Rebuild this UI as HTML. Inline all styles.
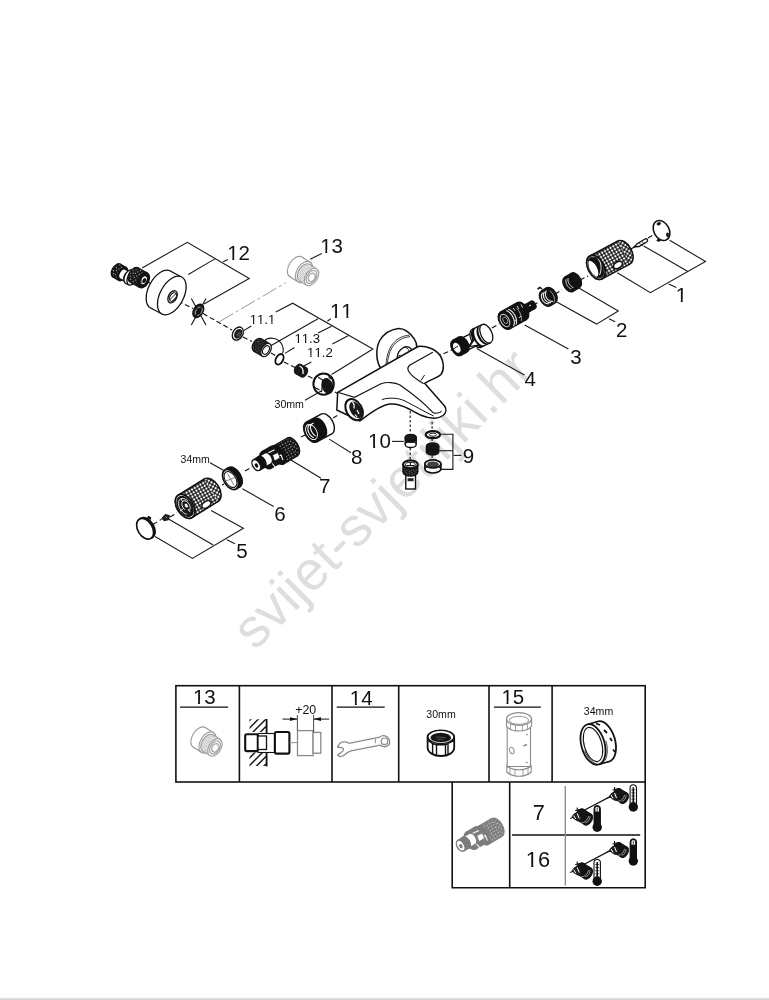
<!DOCTYPE html>
<html><head><meta charset="utf-8">
<style>
html,body{margin:0;padding:0;background:#fff;}
body{width:769px;height:1000px;overflow:hidden;position:relative;}
svg{position:absolute;left:0;top:0;will-change:transform;}
text{font-family:"Liberation Sans",sans-serif;font-kerning:none;font-feature-settings:"kern" 0;}
</style></head>
<body>
<svg width="769" height="1000" viewBox="0 0 769 1000">
<defs>
<linearGradient id="shade" x1="0" y1="0" x2="0" y2="1">
<stop offset="0" stop-color="#fff"/><stop offset="1" stop-color="#f4f4f4"/>
</linearGradient>
<pattern id="mesh" width="3.2" height="3.2" patternUnits="userSpaceOnUse" patternTransform="rotate(-30)">
<rect width="3.2" height="3.2" fill="#1a1a1a"/><circle cx="1.6" cy="1.6" r="1.12" fill="#fff"/>
</pattern>
<pattern id="knurl" width="2.4" height="2.4" patternUnits="userSpaceOnUse" patternTransform="rotate(-30)">
<rect width="2.4" height="2.4" fill="#1a1a1a"/><rect x="0.6" y="0.6" width="0.9" height="0.9" fill="#888"/>
</pattern>
<pattern id="gknurl" width="2" height="2" patternUnits="userSpaceOnUse" patternTransform="rotate(-30)">
<rect width="2" height="2" fill="#fff"/><rect x="0" y="0" width="1" height="1" fill="#aaa"/><rect x="1" y="1" width="1" height="1" fill="#bbb"/>
</pattern>
<pattern id="knurl2" width="3" height="3" patternUnits="userSpaceOnUse" patternTransform="rotate(-30)">
<rect width="3" height="3" fill="#151515"/><rect x="0.9" y="0.9" width="1.1" height="1.1" fill="#bbb"/>
</pattern>
<pattern id="mesh2" width="2.6" height="2.6" patternUnits="userSpaceOnUse" patternTransform="rotate(-30)">
<rect width="2.6" height="2.6" fill="#fff"/><circle cx="1.3" cy="1.3" r="0.6" fill="#444"/>
</pattern>
<filter id="lighten" color-interpolation-filters="sRGB"><feComponentTransfer><feFuncR type="linear" slope="0.55" intercept="0.45"/><feFuncG type="linear" slope="0.55" intercept="0.45"/><feFuncB type="linear" slope="0.55" intercept="0.45"/></feComponentTransfer></filter>
</defs>
<rect x="0" y="0" width="769" height="1000" fill="#fff"/>
<rect x="0" y="993.5" width="769" height="1.5" fill="#fafafa"/>
<rect x="0" y="997" width="769" height="1.5" fill="#f3f3f3"/>
<rect x="0" y="998.5" width="769" height="1.5" fill="#d2d2d2"/>

<!-- watermark -->
<g id="wm">
<text x="0" y="0" font-size="54.9" fill="#dedede" transform="translate(255,651.6) rotate(-44.9)">svijet-svjetiljki.hr</text>
</g>

<line x1="148" y1="282" x2="160" y2="289" stroke="#111" stroke-width="1.1" stroke-dasharray="5 2.8"/>
<line x1="178" y1="301" x2="193" y2="308.5" stroke="#111" stroke-width="1.1" stroke-dasharray="5 2.8"/>
<line x1="203" y1="313.5" x2="232" y2="330" stroke="#111" stroke-width="1.1" stroke-dasharray="5 2.8"/>
<line x1="243" y1="337" x2="252" y2="341.5" stroke="#111" stroke-width="1.1" stroke-dasharray="5 2.8"/>
<line x1="271" y1="353" x2="276" y2="356" stroke="#111" stroke-width="1.1" stroke-dasharray="5 2.8"/>
<line x1="284" y1="362" x2="296" y2="368" stroke="#111" stroke-width="1.1" stroke-dasharray="5 2.8"/>
<line x1="308" y1="376" x2="316" y2="380" stroke="#111" stroke-width="1.1" stroke-dasharray="5 2.8"/>
<line x1="335" y1="392" x2="342" y2="396" stroke="#111" stroke-width="1.1" stroke-dasharray="5 2.8"/>
<polyline points="219.5,321.7 285.8,282.7" fill="none" stroke="#9a9a9a" stroke-width="1" stroke-dasharray="16 3 3 3"/>
<line x1="422" y1="363" x2="452" y2="350" stroke="#111" stroke-width="1.1" stroke-dasharray="5 2.8"/>
<line x1="466" y1="341" x2="472" y2="338" stroke="#111" stroke-width="1.1" stroke-dasharray="5 2.8"/>
<line x1="492" y1="328" x2="499" y2="324" stroke="#111" stroke-width="1.1" stroke-dasharray="5 2.8"/>
<line x1="533" y1="305" x2="539" y2="302" stroke="#111" stroke-width="1.1" stroke-dasharray="5 2.8"/>
<line x1="555" y1="294" x2="562" y2="290" stroke="#111" stroke-width="1.1" stroke-dasharray="5 2.8"/>
<line x1="580" y1="280" x2="588" y2="276" stroke="#111" stroke-width="1.1" stroke-dasharray="5 2.8"/>
<line x1="631" y1="249" x2="636" y2="246" stroke="#111" stroke-width="1.1" stroke-dasharray="5 2.8"/>
<line x1="648" y1="238" x2="655" y2="234" stroke="#111" stroke-width="1.1" stroke-dasharray="5 2.8"/>
<line x1="153" y1="524.5" x2="161.5" y2="519.2" stroke="#111" stroke-width="1.1" stroke-dasharray="5 2.8"/>
<line x1="170" y1="517" x2="177" y2="513" stroke="#111" stroke-width="1.1" stroke-dasharray="5 2.8"/>
<line x1="224" y1="484" x2="222" y2="485" stroke="#111" stroke-width="1.1" stroke-dasharray="5 2.8"/>
<line x1="245" y1="471" x2="252" y2="467" stroke="#111" stroke-width="1.1" stroke-dasharray="5 2.8"/>
<line x1="301" y1="437" x2="306" y2="434.5" stroke="#111" stroke-width="1.1" stroke-dasharray="5 2.8"/>
<line x1="333" y1="418" x2="340" y2="414" stroke="#111" stroke-width="1.1" stroke-dasharray="5 2.8"/>
<line x1="410.2" y1="410.9" x2="410.2" y2="433.5" stroke="#111" stroke-width="1.1" stroke-dasharray="2.5 2"/>
<line x1="410.2" y1="448" x2="410.2" y2="460" stroke="#111" stroke-width="1.1" stroke-dasharray="2.5 2"/>
<line x1="432.1" y1="421.8" x2="432.1" y2="431.5" stroke="#111" stroke-width="1.1" stroke-dasharray="2.5 2"/>
<line x1="432.1" y1="438.5" x2="432.1" y2="443.5" stroke="#111" stroke-width="1.1" stroke-dasharray="2.5 2"/>
<line x1="432.1" y1="455.5" x2="432.1" y2="460" stroke="#111" stroke-width="1.1" stroke-dasharray="2.5 2"/>
<ellipse cx="116.5" cy="270.5" rx="7.4" ry="4.4" transform="rotate(-59.7 116.5 270.5)" fill="url(#knurl2)" stroke="#111" stroke-width="1.2"/>
<polygon points="126.2,267.6 120.2,264.1 112.8,276.9 118.8,280.4" fill="url(#knurl2)" stroke="none"/>
<line x1="126.2" y1="267.6" x2="120.2" y2="264.1" stroke="#111" stroke-width="1.2"/>
<line x1="112.8" y1="276.9" x2="118.8" y2="280.4" stroke="#111" stroke-width="1.2"/>
<ellipse cx="122.5" cy="274" rx="7.4" ry="4.4" transform="rotate(-59.7 122.5 274)" fill="#151515" stroke="#111" stroke-width="1.2" />
<ellipse cx="122.5" cy="274" rx="5.4" ry="3.2" transform="rotate(-62.5 122.5 274)" fill="#fff" stroke="#111" stroke-width="1.3"/>
<polygon points="130,271.8 125,269.2 120,278.8 125,281.4" fill="#fff" stroke="none"/>
<line x1="130" y1="271.8" x2="125" y2="269.2" stroke="#111" stroke-width="1.3"/>
<line x1="120" y1="278.8" x2="125" y2="281.4" stroke="#111" stroke-width="1.3"/>
<ellipse cx="127.5" cy="276.6" rx="5.4" ry="3.2" transform="rotate(-62.5 127.5 276.6)" fill="#fff" stroke="#111" stroke-width="1.3" />
<ellipse cx="129" cy="276.8" rx="7.4" ry="4.4" transform="rotate(-65 129 276.8)" fill="#fff" stroke="#111" stroke-width="1.3"/>
<polygon points="135.1,271.5 132.1,270.1 125.9,283.5 128.9,284.9" fill="#fff" stroke="none"/>
<line x1="135.1" y1="271.5" x2="132.1" y2="270.1" stroke="#111" stroke-width="1.3"/>
<line x1="125.9" y1="283.5" x2="128.9" y2="284.9" stroke="#111" stroke-width="1.3"/>
<ellipse cx="132" cy="278.2" rx="7.4" ry="4.4" transform="rotate(-65 132 278.2)" fill="#fff" stroke="#111" stroke-width="1.3" />
<ellipse cx="134" cy="275" rx="8.2" ry="5.1" transform="rotate(-61.6 134 275)" fill="url(#knurl2)" stroke="#111" stroke-width="1.2"/>
<polygon points="147.5,273 137.9,267.8 130.1,282.2 139.7,287.4" fill="url(#knurl2)" stroke="none"/>
<line x1="147.5" y1="273" x2="137.9" y2="267.8" stroke="#111" stroke-width="1.2"/>
<line x1="130.1" y1="282.2" x2="139.7" y2="287.4" stroke="#111" stroke-width="1.2"/>
<ellipse cx="143.6" cy="280.2" rx="8.2" ry="5.1" transform="rotate(-61.6 143.6 280.2)" fill="#151515" stroke="#111" stroke-width="1.2" />
<ellipse cx="143.8" cy="280.3" rx="4.9" ry="3.2" transform="rotate(118 143.8 280.3)" fill="#fff" stroke="#111" stroke-width="1.3" />
<ellipse cx="144.3" cy="280.5" rx="2.6" ry="1.8" transform="rotate(118 144.3 280.5)" fill="#111" stroke="none" stroke-width="1.2" />
<path d="M141.5,276.5 C140.5,278.5 140.8,281.5 142.5,283.5" fill="none" stroke="#111" stroke-width="0.8"/>
<ellipse cx="160.5" cy="289.5" rx="21" ry="11.8" transform="rotate(-62 160.5 289.5)" fill="#fff" stroke="#111" stroke-width="1.3"/>
<polygon points="181.6,277 170.3,271 150.7,308 162,314" fill="#fff" stroke="none"/>
<line x1="181.6" y1="277" x2="170.3" y2="271" stroke="#111" stroke-width="1.3"/>
<line x1="150.7" y1="308" x2="162" y2="314" stroke="#111" stroke-width="1.3"/>
<ellipse cx="171.8" cy="295.5" rx="21" ry="11.8" transform="rotate(-62 171.8 295.5)" fill="#fff" stroke="#111" stroke-width="1.3" />
<ellipse cx="172.6" cy="296.8" rx="6.6" ry="4.1" transform="rotate(118 172.6 296.8)" fill="#fff" stroke="#111" stroke-width="1.3" />
<ellipse cx="173" cy="297" rx="4.6" ry="2.9" transform="rotate(118 173 297)" fill="#fff" stroke="#111" stroke-width="0.9" />
<path d="M169.5,300 L176.5,293 M171,302 L177,296.5 M168.5,297 L174.5,291.8" stroke="#111" stroke-width="0.9"/>
<ellipse cx="198.3" cy="310.9" rx="7.2" ry="4.7" transform="rotate(120 198.3 310.9)" fill="#222" stroke="#111" stroke-width="1.4" />
<ellipse cx="198.8" cy="311.2" rx="4.5" ry="2.9" transform="rotate(120 198.8 311.2)" fill="none" stroke="#bbb" stroke-width="0.8" />
<ellipse cx="199" cy="311.3" rx="2.5" ry="1.6" transform="rotate(120 199 311.3)" fill="#111" stroke="none" stroke-width="1.2" />
<path d="M191.3,298.4 L206,325 M206,298.4 L191.3,325" stroke="#111" stroke-width="1.1"/>
<g id="nut13">
<ellipse cx="296" cy="267" rx="11.6" ry="7.2" transform="rotate(-58 296 267)" fill="#fff" stroke="#9a9a9a" stroke-width="1.1"/>
<polygon points="310.1,262.2 302.1,257.2 289.9,276.8 297.9,281.8" fill="#fff" stroke="none"/>
<line x1="310.1" y1="262.2" x2="302.1" y2="257.2" stroke="#9a9a9a" stroke-width="1.1"/>
<line x1="289.9" y1="276.8" x2="297.9" y2="281.8" stroke="#9a9a9a" stroke-width="1.1"/>
<ellipse cx="304" cy="272" rx="11.6" ry="7.2" transform="rotate(-58 304 272)" fill="#fff" stroke="#9a9a9a" stroke-width="1.1" />
<ellipse cx="304.5" cy="272.5" rx="9.6" ry="6" transform="rotate(-57.3 304.5 272.5)" fill="url(#gknurl)" stroke="#9a9a9a" stroke-width="1.1"/>
<polygon points="316.7,268.9 309.7,264.4 299.3,280.6 306.3,285.1" fill="url(#gknurl)" stroke="none"/>
<line x1="316.7" y1="268.9" x2="309.7" y2="264.4" stroke="#9a9a9a" stroke-width="1.1"/>
<line x1="299.3" y1="280.6" x2="306.3" y2="285.1" stroke="#9a9a9a" stroke-width="1.1"/>
<ellipse cx="311.5" cy="277" rx="9.6" ry="6" transform="rotate(-57.3 311.5 277)" fill="#fff" stroke="#9a9a9a" stroke-width="1.1" />
<ellipse cx="311.5" cy="277" rx="7.2" ry="4.5" transform="rotate(-57.3 311.5 277)" fill="#fff" stroke="#9a9a9a" stroke-width="1.1" />
<ellipse cx="311.8" cy="277.3" rx="4.6" ry="3.2" transform="rotate(-56.7 311.8 277.3)" fill="#fff" stroke="#9a9a9a" stroke-width="1.0" />
<path d="M309,274.5 L312.5,273 L315,276 L314.5,280.5 L311,282 L308.5,279 Z" fill="none" stroke="#aaa" stroke-width="0.8"/>
</g>
<ellipse cx="237.8" cy="333.6" rx="7" ry="5" transform="rotate(120 237.8 333.6)" fill="#fff" stroke="#111" stroke-width="1.3" />
<ellipse cx="238.2" cy="333.8" rx="5.2" ry="3.7" transform="rotate(120 238.2 333.8)" fill="#1c1c1c" stroke="none" stroke-width="1.2" />
<ellipse cx="238.8" cy="334.3" rx="2.8" ry="2" transform="rotate(120 238.8 334.3)" fill="#444" stroke="none" stroke-width="1.2" />
<ellipse cx="257.5" cy="345" rx="7.2" ry="4.5" transform="rotate(-59.5 257.5 345)" fill="url(#knurl)" stroke="#111" stroke-width="1.3"/>
<polygon points="269.7,343.8 261.2,338.8 253.8,351.2 262.3,356.2" fill="url(#knurl)" stroke="none"/>
<line x1="269.7" y1="343.8" x2="261.2" y2="338.8" stroke="#111" stroke-width="1.3"/>
<line x1="253.8" y1="351.2" x2="262.3" y2="356.2" stroke="#111" stroke-width="1.3"/>
<ellipse cx="266" cy="350" rx="7.2" ry="4.5" transform="rotate(-59.5 266 350)" fill="#fff" stroke="#111" stroke-width="1.3" />
<ellipse cx="266" cy="350" rx="4.6" ry="2.9" transform="rotate(-59.5 266 350)" fill="#fff" stroke="#111" stroke-width="1.1" />
<path d="M264.5,340.8 C268,337 277,337 281,343 C284,347.5 283.5,351 282.6,353.4" fill="none" stroke="#111" stroke-width="1.1"/>
<ellipse cx="279.5" cy="359.3" rx="5.6" ry="3.5" transform="rotate(118 279.5 359.3)" fill="#fff" stroke="#111" stroke-width="1.9" />
<ellipse cx="298.2" cy="369" rx="5.2" ry="3.2" transform="rotate(-59.5 298.2 369)" fill="#1a1a1a" stroke="#111" stroke-width="1.2"/>
<polygon points="306.4,367.8 300.8,364.5 295.6,373.5 301.2,376.8" fill="#1a1a1a" stroke="none"/>
<line x1="306.4" y1="367.8" x2="300.8" y2="364.5" stroke="#111" stroke-width="1.2"/>
<line x1="295.6" y1="373.5" x2="301.2" y2="376.8" stroke="#111" stroke-width="1.2"/>
<ellipse cx="303.8" cy="372.3" rx="5.2" ry="3.2" transform="rotate(-59.5 303.8 372.3)" fill="#1a1a1a" stroke="#111" stroke-width="1.2" />
<path d="M299.5,366 C302,367 303.5,370 303,374" fill="none" stroke="#fff" stroke-width="1.3"/>
<ellipse cx="323.6" cy="384.1" rx="10.2" ry="10.7" fill="#fff" stroke="#111" stroke-width="2"/>
<ellipse cx="327.4" cy="386" rx="5.3" ry="7.9" transform="rotate(-18 327.4 386)" fill="#151515" stroke="#111" stroke-width="0.6"/>
<path d="M330,376.5 C333.5,379 334,385 332,390" fill="none" stroke="#111" stroke-width="0.8"/>
<path d="M318.1,377.2 L322.7,380.1 L321.6,392.1 M314.9,387.4 L319.5,390 M328.5,376.5 L331,379" fill="none" stroke="#111" stroke-width="1.1"/>
<path d="M380.6,368 C376,361 375.5,349 379.5,341 C383.5,334 391,329.5 398.5,328.6 C404,328.5 410,333 414.1,338.7 C416,341.5 417,345 416.9,348" fill="#fff" stroke="#111" stroke-width="1.5"/>
<path d="M386.1,364 C386.5,355 390,346 394.6,341.8 C399,337.5 404,335.5 409.5,335.2" fill="none" stroke="#222" stroke-width="0.9"/>
<path d="M387.5,363.5 C388,355 391.3,347 395.6,343 C400,339 405,337 410,336.6" fill="none" stroke="#222" stroke-width="0.9"/>
<path d="M397,358 C397.5,353 400,349 404.8,346.9 C407,346.3 410,347 411.8,350" fill="#fff" stroke="#111" stroke-width="1.3"/>
<path d="M403.5,347.5 C406,347 408.5,348.5 409,351 M398.5,356 L400.5,355" fill="none" stroke="#111" stroke-width="0.9"/>
<path d="M337.7,392.3 L418,346.5 C426,345.5 436,349 440.5,356 C444,362 444.5,370 441,374.5 C437,378 430,380 424.6,383.3 L444.6,406 C446.5,409 446.5,413 443,415.5 C440,417.5 436,418.5 433.7,418.3 C425,418 418,414 410,409.5 C402,405 395,403.5 390,404 C382,405 370,413 360,421 L336.8,410 Z" fill="#fff" stroke="#111" stroke-width="1.5" stroke-linejoin="round"/>
<path d="M337.7,392.3 L354.6,397.3 L381,383.7 C386,382 395,382 400,385 C410,392 425,404 432.8,412.4 C436,414 440,413 441.5,411" fill="none" stroke="#111" stroke-width="1.1"/>
<path d="M381.9,399.6 C388,397.5 398,397.5 405,401 C415,406 425,412 433.7,416" fill="none" stroke="#111" stroke-width="1"/>
<path d="M410,365 L432.8,352.3 M410,365 C408,366.5 407.5,369 408.5,371 C410,374 413,377.5 423.7,383.7" fill="none" stroke="#111" stroke-width="1.2"/>
<path d="M421,380.5 L424.6,375" fill="none" stroke="#111" stroke-width="1"/>
<ellipse cx="354.1" cy="409.6" rx="7.8" ry="11.3" transform="rotate(-30 354.1 409.6)" fill="#fff" stroke="#111" stroke-width="2"/>
<ellipse cx="355.8" cy="409.8" rx="5.6" ry="9" transform="rotate(-30 355.8 409.8)" fill="#1a1a1a"/>
<path d="M352.5,402 C354,403.5 354.5,406 353.8,408.5 M357,410 L359,414 M355,414.5 L357,417" fill="none" stroke="#fff" stroke-width="1.2"/>
<ellipse cx="478" cy="337.6" rx="6.6" ry="4" transform="rotate(64.4 478 337.6)" fill="#fff" stroke="#111" stroke-width="1.3"/>
<polygon points="465.9,350.8 480.9,343.6 475.1,331.6 460.1,338.8" fill="#fff" stroke="none"/>
<line x1="465.9" y1="350.8" x2="480.9" y2="343.6" stroke="#111" stroke-width="1.3"/>
<line x1="475.1" y1="331.6" x2="460.1" y2="338.8" stroke="#111" stroke-width="1.3"/>
<ellipse cx="463" cy="344.8" rx="6.6" ry="4" transform="rotate(64.4 463 344.8)" fill="#fff" stroke="#111" stroke-width="1.3" />
<ellipse cx="476.5" cy="338.3" rx="10" ry="5.5" transform="rotate(-115.6 476.5 338.3)" fill="#fff" stroke="#111" stroke-width="1.3"/>
<polygon points="482,324.6 472.2,329.3 480.8,347.3 490.6,342.6" fill="#fff" stroke="none"/>
<line x1="482" y1="324.6" x2="472.2" y2="329.3" stroke="#111" stroke-width="1.3"/>
<line x1="480.8" y1="347.3" x2="490.6" y2="342.6" stroke="#111" stroke-width="1.3"/>
<ellipse cx="486.3" cy="333.6" rx="10" ry="5.5" transform="rotate(-115.6 486.3 333.6)" fill="#fff" stroke="#111" stroke-width="1.3" />
<path d="M480.7,325.2 L480.1,325.6 L479.6,326.1 L479.1,326.8 L478.8,327.6 L478.6,328.5 L478.5,329.5 L478.5,330.6 L478.6,331.8 L478.8,333 L479.1,334.2 L479.6,335.4 L480.1,336.6 L480.7,337.7 L481.4,338.8 L482.1,339.9 L482.9,340.8 L483.7,341.6 L484.6,342.3 L485.4,342.8 L486.3,343.2 L487.1,343.4 L487.9,343.5 L488.7,343.5 L489.4,343.2 L487.4,344.2 L486.7,344.4 L485.9,344.5 L485.2,344.4 L484.3,344.2 L483.5,343.8 L482.6,343.2 L481.8,342.5 L480.9,341.7 L480.1,340.8 L479.4,339.8 L478.7,338.7 L478.1,337.5 L477.6,336.3 L477.1,335.1 L476.8,333.9 L476.6,332.7 L476.5,331.6 L476.5,330.5 L476.6,329.5 L476.8,328.5 L477.2,327.7 L477.6,327.1 L478.1,326.5 L478.7,326.1 Z" fill="#111" stroke="none" stroke-width="1"/>
<path d="M476.4,327.3 L475.8,327.7 L475.2,328.2 L474.8,328.9 L474.5,329.7 L474.3,330.6 L474.1,331.6 L474.1,332.7 L474.3,333.8 L474.5,335 L474.8,336.2 L475.2,337.5 L475.8,338.7 L476.4,339.8 L477,340.9 L477.8,341.9 L478.6,342.8 L479.4,343.7 L480.3,344.3 L481.1,344.9 L482,345.3 L482.8,345.5 L483.6,345.6 L484.3,345.5 L485,345.3 L481.8,346.9 L481.1,347.1 L480.4,347.2 L479.6,347.1 L478.7,346.8 L477.9,346.4 L477,345.9 L476.2,345.2 L475.3,344.4 L474.5,343.5 L473.8,342.5 L473.1,341.4 L472.5,340.2 L472,339 L471.6,337.8 L471.2,336.6 L471,335.4 L470.9,334.2 L470.9,333.1 L471,332.1 L471.2,331.2 L471.6,330.4 L472,329.7 L472.5,329.2 L473.1,328.8 Z" fill="#111" stroke="none" stroke-width="1"/>
<path d="M469.2,346.5 L473.8,339 L478.5,345.2 Z" fill="#fff" stroke="#111" stroke-width="1.2"/>
<path d="M469.5,346 L473.8,339.5" stroke="#111" stroke-width="2"/>
<ellipse cx="463" cy="344.5" rx="8.6" ry="5.2" transform="rotate(62 463 344.5)" fill="#111" stroke="#111" stroke-width="1.2"/>
<polygon points="460.8,355.4 467,352.1 459,336.9 452.8,340.2" fill="#111" stroke="none"/>
<line x1="460.8" y1="355.4" x2="467" y2="352.1" stroke="#111" stroke-width="1.2"/>
<line x1="459" y1="336.9" x2="452.8" y2="340.2" stroke="#111" stroke-width="1.2"/>
<ellipse cx="456.8" cy="347.8" rx="8.6" ry="5.2" transform="rotate(62 456.8 347.8)" fill="#111" stroke="#111" stroke-width="1.2" />
<ellipse cx="456.8" cy="347.8" rx="5.4" ry="3.3" transform="rotate(62 456.8 347.8)" fill="#fff" stroke="none" stroke-width="1" />
<path d="M452,350 L458,346" stroke="#111" stroke-width="1"/>
<ellipse cx="522" cy="311" rx="9.6" ry="5.8" transform="rotate(60.8 522 311)" fill="#111" stroke="#111" stroke-width="1.2"/>
<polygon points="509.7,328.9 526.7,319.4 517.3,302.6 500.3,312.1" fill="#111" stroke="none"/>
<line x1="509.7" y1="328.9" x2="526.7" y2="319.4" stroke="#111" stroke-width="1.2"/>
<line x1="517.3" y1="302.6" x2="500.3" y2="312.1" stroke="#111" stroke-width="1.2"/>
<ellipse cx="505" cy="320.5" rx="9.6" ry="5.8" transform="rotate(60.8 505 320.5)" fill="#111" stroke="#111" stroke-width="1.2" />
<ellipse cx="533" cy="304.8" rx="4.2" ry="2.5" transform="rotate(59.8 533 304.8)" fill="#111" stroke="#111" stroke-width="1.2"/>
<polygon points="529.6,311.6 535.1,308.4 530.9,301.2 525.4,304.4" fill="#111" stroke="none"/>
<line x1="529.6" y1="311.6" x2="535.1" y2="308.4" stroke="#111" stroke-width="1.2"/>
<line x1="530.9" y1="301.2" x2="525.4" y2="304.4" stroke="#111" stroke-width="1.2"/>
<ellipse cx="527.5" cy="308" rx="4.2" ry="2.5" transform="rotate(59.8 527.5 308)" fill="#111" stroke="#111" stroke-width="1.2" />
<path d="M513.3,326.3 L513.6,325.7 L513.9,325.2 L514.1,324.6 L514.3,323.9 L514.3,323.1 L514.3,322.4 L514.3,321.6 L514.2,320.8 L514,319.9 L513.8,319.1 L513.5,318.2 L513.1,317.4 L512.7,316.6 L512.2,315.8 L511.7,315 L511.2,314.3 L510.6,313.6 L510,312.9 L509.4,312.4 L508.7,311.9 L508.1,311.4 L507.4,311.1 L506.8,310.8 L506.1,310.6" fill="none" stroke="#eee" stroke-width="1.1"/>
<path d="M515.8,324.6 L516.1,324 L516.3,323.5 L516.4,322.8 L516.5,322.1 L516.5,321.4 L516.5,320.6 L516.4,319.8 L516.3,319 L516.1,318.2 L515.8,317.4 L515.5,316.6 L515.1,315.8 L514.7,315 L514.2,314.2 L513.7,313.5 L513.2,312.8 L512.6,312.2 L512.1,311.6 L511.4,311 L510.8,310.6 L510.2,310.2 L509.6,309.8 L508.9,309.5 L508.3,309.3" fill="none" stroke="#eee" stroke-width="1.1"/>
<path d="M521.2,321 L521.3,320.5 L521.4,320.1 L521.4,319.6 L521.5,319.1 L521.5,318.5 L521.4,318 L521.4,317.5 L521.3,316.9 L521.2,316.3 L521,315.7 L520.9,315.2 L520.7,314.6 L520.4,314 L520.2,313.4 L519.9,312.9 L519.6,312.3 L519.3,311.8 L519,311.3 L518.6,310.7 L518.2,310.3 L517.9,309.8 L517.5,309.3 L517,308.9 L516.6,308.5" fill="none" stroke="#ccc" stroke-width="0.9"/>
<ellipse cx="505" cy="320.5" rx="6.8" ry="4.1" transform="rotate(60.8 505 320.5)" fill="none" stroke="#ddd" stroke-width="0.9" />
<ellipse cx="505.3" cy="320.3" rx="3.5" ry="2.1" transform="rotate(60.9 505.3 320.3)" fill="none" stroke="#aaa" stroke-width="0.8" />
<path d="M513,308 L515,310.5 M517,306 L519,309 M521,304.5 L522.5,307.5 M519,318 L521,316 M514,321 L517,319.5 M529,306 L531,305" fill="none" stroke="#ddd" stroke-width="1"/>
<ellipse cx="550.5" cy="295.5" rx="8.7" ry="5.9" transform="rotate(59 550.5 295.5)" fill="#151515" stroke="#111" stroke-width="1.2"/>
<polygon points="550.5,305.7 555,303 546,288 541.5,290.7" fill="#151515" stroke="none"/>
<line x1="550.5" y1="305.7" x2="555" y2="303" stroke="#111" stroke-width="1.2"/>
<line x1="546" y1="288" x2="541.5" y2="290.7" stroke="#111" stroke-width="1.2"/>
<ellipse cx="546" cy="298.2" rx="8.7" ry="5.9" transform="rotate(59 546 298.2)" fill="#151515" stroke="#111" stroke-width="1.2" />
<path d="M542.6,293 L542.2,293.4 L542,293.9 L541.7,294.4 L541.6,295 L541.5,295.6 L541.4,296.2 L541.5,296.9 L541.6,297.5 L541.8,298.2 L542,298.9 L542.3,299.6 L542.6,300.2 L543,300.8 L543.5,301.4 L544,301.9 L544.5,302.4 L545.1,302.8 L545.6,303.2 L546.2,303.4 L546.8,303.6 L547.3,303.8 L547.9,303.8 L548.4,303.8 L549,303.7" fill="none" stroke="#eee" stroke-width="1.1"/>
<path d="M544.6,291.8 L544.2,292.2 L543.9,292.7 L543.7,293.2 L543.5,293.8 L543.4,294.4 L543.4,295 L543.5,295.7 L543.6,296.4 L543.7,297 L544,297.7 L544.3,298.4 L544.6,299 L545,299.6 L545.5,300.2 L546,300.7 L546.5,301.2 L547,301.6 L547.6,302 L548.2,302.2 L548.7,302.4 L549.3,302.6 L549.9,302.6 L550.4,302.6 L550.9,302.5" fill="none" stroke="#eee" stroke-width="1.1"/>
<path d="M546.5,290.6 L546.2,291.1 L545.9,291.5 L545.7,292 L545.5,292.6 L545.4,293.2 L545.4,293.8 L545.4,294.5 L545.5,295.2 L545.7,295.9 L545.9,296.5 L546.2,297.2 L546.6,297.8 L547,298.5 L547.4,299 L547.9,299.6 L548.4,300 L549,300.4 L549.6,300.8 L550.1,301.1 L550.7,301.3 L551.3,301.4 L551.9,301.4 L552.4,301.4 L552.9,301.3" fill="none" stroke="#eee" stroke-width="1.1"/>
<path d="M553.7,303.1 L553.9,302.7 L554.1,302.3 L554.2,301.8 L554.3,301.3 L554.4,300.8 L554.5,300.3 L554.5,299.7 L554.5,299.2 L554.4,298.6 L554.3,298 L554.2,297.4 L554,296.9 L553.8,296.3 L553.6,295.7 L553.3,295.1 L553,294.6 L552.7,294 L552.4,293.5 L552,293 L551.6,292.5 L551.2,292 L550.8,291.6 L550.3,291.2 L549.9,290.8" fill="none" stroke="#ccc" stroke-width="0.8"/>
<path d="M537.5,289 L540,287.5 L542,289" fill="none" stroke="#111" stroke-width="1.5"/>
<ellipse cx="575.5" cy="280.3" rx="8.3" ry="5.1" transform="rotate(59.2 575.5 280.3)" fill="#141414" stroke="#111" stroke-width="1.2"/>
<polygon points="573.1,291.4 579.8,287.4 571.2,273.2 564.5,277.2" fill="#141414" stroke="none"/>
<line x1="573.1" y1="291.4" x2="579.8" y2="287.4" stroke="#111" stroke-width="1.2"/>
<line x1="571.2" y1="273.2" x2="564.5" y2="277.2" stroke="#111" stroke-width="1.2"/>
<ellipse cx="568.8" cy="284.3" rx="8.3" ry="5.1" transform="rotate(59.2 568.8 284.3)" fill="#141414" stroke="#111" stroke-width="1.2" />
<path d="M566.3,279.3 L566.1,279.6 L566,280 L565.9,280.4 L565.9,280.9 L565.9,281.3 L565.9,281.8 L566,282.3 L566.1,282.8 L566.2,283.3 L566.4,283.8 L566.6,284.4 L566.9,284.9 L567.2,285.4 L567.5,285.8 L567.8,286.3 L568.1,286.7 L568.5,287.1 L568.9,287.5 L569.3,287.8 L569.7,288.1 L570.1,288.4 L570.5,288.6 L570.9,288.7 L571.3,288.9" fill="none" stroke="#eee" stroke-width="1"/>
<path d="M568.4,278 L568.2,278.3 L568.1,278.7 L568,279.1 L568,279.6 L568,280 L568,280.5 L568.1,281 L568.2,281.5 L568.4,282 L568.5,282.6 L568.8,283.1 L569,283.6 L569.3,284.1 L569.6,284.6 L569.9,285 L570.3,285.4 L570.7,285.8 L571,286.2 L571.4,286.5 L571.9,286.8 L572.3,287.1 L572.7,287.3 L573.1,287.5 L573.5,287.6" fill="none" stroke="#eee" stroke-width="1"/>
<ellipse cx="623.7" cy="252.6" rx="13" ry="8.1" transform="rotate(61.9 623.7 252.6)" fill="url(#mesh)" stroke="#111" stroke-width="1.6"/>
<polygon points="602.1,278.9 629.8,264.1 617.6,241.1 589.9,255.9" fill="url(#mesh)" stroke="none"/>
<line x1="602.1" y1="278.9" x2="629.8" y2="264.1" stroke="#111" stroke-width="1.6"/>
<line x1="617.6" y1="241.1" x2="589.9" y2="255.9" stroke="#111" stroke-width="1.6"/>
<ellipse cx="596" cy="267.4" rx="13" ry="8.1" transform="rotate(61.9 596 267.4)" fill="#fff" stroke="#111" stroke-width="1.6" />
<ellipse cx="596" cy="267.4" rx="11" ry="6.8" transform="rotate(62 596 267.4)" fill="#111" stroke="none" stroke-width="1.2" />
<ellipse cx="591.8" cy="269.5" rx="9.4" ry="5.5" transform="rotate(62 591.8 269.5)" fill="#fff" stroke="none" stroke-width="1.2" />
<ellipse cx="596" cy="267.4" rx="13" ry="8.1" transform="rotate(62 596 267.4)" fill="none" stroke="#111" stroke-width="1.6" />
<ellipse cx="596" cy="267.4" rx="11.2" ry="6.9" transform="rotate(62 596 267.4)" fill="none" stroke="#111" stroke-width="0.9" />
<path d="M598,259 C601.5,262 602,270 599.5,275" fill="none" stroke="#fff" stroke-width="0.9"/>
<ellipse cx="618" cy="265" rx="4.9" ry="3.1" transform="rotate(-32 618 265)" fill="#fff" stroke="#111" stroke-width="1.7"/>
<path d="M634,247 L637.5,243.5 L645.5,238.8 C647.2,238.3 648.3,240.5 647,241.8 L639,246.5 Z" fill="#fff" stroke="#111" stroke-width="1.3"/>
<path d="M639,243 L643,246 M641.5,241.5 L645,244" stroke="#111" stroke-width="0.8"/>
<ellipse cx="661.5" cy="230.5" rx="7.6" ry="10.6" transform="rotate(-28 661.5 230.5)" fill="#fff" stroke="#111" stroke-width="1.6"/>
<ellipse cx="658.8" cy="223.8" rx="2.2" ry="1.6" transform="rotate(-20 658.8 223.8)" fill="#111"/><ellipse cx="667.5" cy="234.8" rx="1.4" ry="2.2" fill="#111"/><ellipse cx="658.6" cy="240.3" rx="2" ry="1.4" fill="#111"/>
<ellipse cx="326.5" cy="424" rx="11.2" ry="6.7" transform="rotate(61.9 326.5 424)" fill="#fff" stroke="#111" stroke-width="1.4"/>
<polygon points="316.8,441.9 331.8,433.9 321.2,414.1 306.2,422.1" fill="#fff" stroke="none"/>
<line x1="316.8" y1="441.9" x2="331.8" y2="433.9" stroke="#111" stroke-width="1.4"/>
<line x1="321.2" y1="414.1" x2="306.2" y2="422.1" stroke="#111" stroke-width="1.4"/>
<ellipse cx="311.5" cy="432" rx="11.2" ry="6.7" transform="rotate(61.9 311.5 432)" fill="#111" stroke="#111" stroke-width="1.4" />
<path d="M316.8,441.9 L317.5,441.4 L318.1,440.7 L318.6,439.9 L319,439 L319.3,437.9 L319.4,436.8 L319.4,435.5 L319.3,434.2 L319,432.9 L318.6,431.5 L318.1,430.2 L317.4,428.8 L316.7,427.6 L315.9,426.4 L315,425.3 L314,424.3 L313,423.5 L312,422.8 L310.9,422.2 L309.9,421.9 L308.9,421.7 L307.9,421.6 L307,421.8 L306.2,422.1 L314.2,417.9 L315,417.6 L315.9,417.4 L316.8,417.4 L317.8,417.6 L318.9,418 L319.9,418.5 L320.9,419.2 L321.9,420.1 L322.9,421.1 L323.8,422.2 L324.6,423.3 L325.4,424.6 L326,425.9 L326.5,427.3 L326.9,428.6 L327.2,430 L327.4,431.3 L327.4,432.5 L327.2,433.7 L327,434.7 L326.6,435.7 L326.1,436.5 L325.4,437.1 L324.7,437.6 Z" fill="#111" stroke="none" stroke-width="1"/>
<ellipse cx="311.5" cy="432" rx="8.2" ry="5.1" transform="rotate(61.9 311.5 432)" fill="none" stroke="#fff" stroke-width="0.9" />
<path d="M311.8,425 L311.2,424.8 L310.6,424.8 L310,424.9 L309.5,425.1 L309.1,425.4 L308.7,425.8 L308.4,426.3 L308.1,426.9 L308,427.6 L307.9,428.3 L307.9,429.1 L308,429.9 L308.1,430.8 L308.4,431.6 L308.7,432.4 L309.1,433.3 L309.6,434.1 L310.1,434.8 L310.7,435.5 L311.3,436.1 L311.9,436.6 L312.5,437.1 L313.2,437.4 L313.8,437.6" fill="none" stroke="#fff" stroke-width="1.1"/>
<path d="M313.6,423.4 L313.1,423.4 L312.6,423.5 L312.2,423.7 L311.8,424 L311.4,424.3 L311.1,424.8 L310.9,425.2 L310.7,425.8 L310.6,426.4 L310.5,427.1 L310.5,427.8 L310.6,428.5 L310.8,429.3 L311,430 L311.2,430.8 L311.6,431.5 L312,432.2 L312.4,432.9 L312.9,433.5 L313.4,434.1 L313.9,434.7 L314.5,435.2 L315,435.6 L315.6,435.9" fill="none" stroke="#fff" stroke-width="1.1"/>
<path d="M327.7,433.1 L327.8,432.7 L327.8,432.3 L327.8,431.9 L327.8,431.5 L327.8,431 L327.8,430.6 L327.7,430.2 L327.7,429.7 L327.6,429.3 L327.5,428.8 L327.4,428.4 L327.3,427.9 L327.1,427.5 L327,427 L326.8,426.6 L326.6,426.1 L326.4,425.7 L326.2,425.2 L326,424.8 L325.8,424.4 L325.6,423.9 L325.3,423.5 L325.1,423.1 L324.8,422.7" fill="none" stroke="#fff" stroke-width="0.9"/>
<g id="p7">
<ellipse cx="292.5" cy="446.8" rx="10.3" ry="5.8" transform="rotate(59.6 292.5 446.8)" fill="url(#knurl2)" stroke="#111" stroke-width="1.2"/>
<polygon points="283.7,463.9 297.7,455.7 287.3,437.9 273.3,446.1" fill="url(#knurl2)" stroke="none"/>
<line x1="283.7" y1="463.9" x2="297.7" y2="455.7" stroke="#111" stroke-width="1.2"/>
<line x1="287.3" y1="437.9" x2="273.3" y2="446.1" stroke="#111" stroke-width="1.2"/>
<ellipse cx="278.5" cy="455" rx="10.3" ry="5.8" transform="rotate(59.6 278.5 455)" fill="#111" stroke="#111" stroke-width="1.2" />
<ellipse cx="275.5" cy="454.8" rx="9.6" ry="5.8" transform="rotate(60 275.5 454.8)" fill="#141414" stroke="#111" stroke-width="1.2"/>
<polygon points="271.3,468.3 280.3,463.1 270.7,446.5 261.7,451.7" fill="#141414" stroke="none"/>
<line x1="271.3" y1="468.3" x2="280.3" y2="463.1" stroke="#111" stroke-width="1.2"/>
<line x1="270.7" y1="446.5" x2="261.7" y2="451.7" stroke="#111" stroke-width="1.2"/>
<ellipse cx="266.5" cy="460" rx="9.6" ry="5.8" transform="rotate(60 266.5 460)" fill="#141414" stroke="#111" stroke-width="1.2" />
<path d="M268,453 L274.5,449.8 M271,462 L276,468 M276,457.5 L281,455 L283,460" fill="none" stroke="#fff" stroke-width="1.1"/>
<path d="M272.5,455 L278,452.5 L280,458 L274.5,461 Z" fill="#fff" stroke="#111" stroke-width="0.8"/>
<ellipse cx="268" cy="458.3" rx="6.2" ry="3.7" transform="rotate(60.4 268 458.3)" fill="#fff" stroke="#111" stroke-width="1.3"/>
<polygon points="264.6,467.4 271.1,463.7 264.9,452.9 258.4,456.6" fill="#fff" stroke="none"/>
<line x1="264.6" y1="467.4" x2="271.1" y2="463.7" stroke="#111" stroke-width="1.3"/>
<line x1="264.9" y1="452.9" x2="258.4" y2="456.6" stroke="#111" stroke-width="1.3"/>
<ellipse cx="261.5" cy="462" rx="6.2" ry="3.7" transform="rotate(60.4 261.5 462)" fill="#fff" stroke="#111" stroke-width="1.3" />
<ellipse cx="261.5" cy="462" rx="6" ry="3.6" transform="rotate(59.2 261.5 462)" fill="#111" stroke="#111" stroke-width="1.4"/>
<polygon points="259.4,470.3 264.6,467.2 258.4,456.8 253.2,459.9" fill="#111" stroke="none"/>
<line x1="259.4" y1="470.3" x2="264.6" y2="467.2" stroke="#111" stroke-width="1.4"/>
<line x1="258.4" y1="456.8" x2="253.2" y2="459.9" stroke="#111" stroke-width="1.4"/>
<ellipse cx="256.3" cy="465.1" rx="6" ry="3.6" transform="rotate(59.2 256.3 465.1)" fill="#fff" stroke="#111" stroke-width="1.4" />
<ellipse cx="256.5" cy="465.5" rx="1.6" ry="2.2" transform="rotate(-30 256.5 465.5)" fill="#111"/>
</g>
<ellipse cx="234.2" cy="477.3" rx="11" ry="6.6" transform="rotate(59.3 234.2 477.3)" fill="#111" stroke="#111" stroke-width="1.7"/>
<polygon points="236.1,489 239.8,486.8 228.6,467.8 224.9,470" fill="#111" stroke="none"/>
<line x1="236.1" y1="489" x2="239.8" y2="486.8" stroke="#111" stroke-width="1.7"/>
<line x1="228.6" y1="467.8" x2="224.9" y2="470" stroke="#111" stroke-width="1.7"/>
<ellipse cx="230.5" cy="479.5" rx="11" ry="6.6" transform="rotate(59.3 230.5 479.5)" fill="#fff" stroke="#111" stroke-width="1.7" />
<ellipse cx="230.5" cy="479.5" rx="8.8" ry="5.3" transform="rotate(59 230.5 479.5)" fill="none" stroke="#111" stroke-width="1.0" />
<path d="M227.5,473.5 L234,485.5 M224.5,481.5 L236.5,477" fill="none" stroke="#555" stroke-width="0.7"/>
<ellipse cx="211.3" cy="490.2" rx="13.2" ry="8.2" transform="rotate(58.3 211.3 490.2)" fill="url(#mesh)" stroke="#111" stroke-width="1.5"/>
<polygon points="192,517.6 218.2,501.4 204.4,479 178.2,495.2" fill="url(#mesh)" stroke="none"/>
<line x1="192" y1="517.6" x2="218.2" y2="501.4" stroke="#111" stroke-width="1.5"/>
<line x1="204.4" y1="479" x2="178.2" y2="495.2" stroke="#111" stroke-width="1.5"/>
<ellipse cx="185.1" cy="506.4" rx="13.2" ry="8.2" transform="rotate(58.3 185.1 506.4)" fill="#fff" stroke="#111" stroke-width="1.5" />
<ellipse cx="185.1" cy="506.4" rx="11" ry="6.8" transform="rotate(58.3 185.1 506.4)" fill="#1a1a1a" stroke="#111" stroke-width="1.1" />
<ellipse cx="185.1" cy="506.4" rx="13.2" ry="8.2" transform="rotate(58.3 185.1 506.4)" fill="none" stroke="#111" stroke-width="1.5" />
<path d="M187.9,501.1 L186.9,500.2 L185.9,499.5 L184.8,498.9 L183.8,498.6 L182.8,498.4 L181.8,498.4 L181,498.7 L180.2,499.1 L179.6,499.7 L179.1,500.5 L178.7,501.4 L178.6,502.5 L178.6,503.7 L178.7,504.9 L179,506.2 L179.5,507.5 L180.1,508.7 L180.9,509.9 L181.7,511 L182.7,512 L183.7,512.8 L184.7,513.5 L185.8,514 L186.8,514.3" fill="none" stroke="#fff" stroke-width="0.9"/>
<path d="M188.9,510.6 L189.5,510.1 L189.9,509.3 L190.1,508.5 L190.2,507.5 L190,506.4 L189.6,505.3 L189.1,504.2 L188.4,503.2 L187.6,502.3 L186.7,501.6 L185.8,501.1 L184.9,500.8 L184.1,500.7 L183.3,500.9 L182.7,501.3 L182.2,501.9 L181.9,502.8 L181.8,503.7 L181.9,504.8 L182.2,505.9 L182.7,507 L183.3,508 L184.1,509 L184.9,509.8" fill="none" stroke="#fff" stroke-width="0.9"/>
<ellipse cx="186.3" cy="505.6" rx="2.6" ry="1.8" transform="rotate(58.4 186.3 505.6)" fill="#fff" stroke="#111" stroke-width="0.8" />
<path d="M181,499 L183,502 M180,511 L183,509 M190,512 L188,509" stroke="#fff" stroke-width="0.9"/>
<ellipse cx="206.4" cy="504.5" rx="5" ry="3.1" transform="rotate(-32 206.4 504.5)" fill="#fff" stroke="#111" stroke-width="1.6"/>
<path d="M161.9,518.5 L165,514.6 L169.4,515.5 L168.5,519.8 L164,520.6 Z" fill="#222" stroke="#111" stroke-width="1"/>
<path d="M165.5,516.5 L167,518" stroke="#ccc" stroke-width="0.7"/>
<ellipse cx="146.6" cy="527.9" rx="11.2" ry="7.3" transform="rotate(59 146.6 527.9)" fill="#111" stroke="#111" stroke-width="1.6"/>
<polygon points="150.9,538.4 152.4,537.5 140.8,518.3 139.3,519.2" fill="#111" stroke="none"/>
<line x1="150.9" y1="538.4" x2="152.4" y2="537.5" stroke="#111" stroke-width="1.6"/>
<line x1="140.8" y1="518.3" x2="139.3" y2="519.2" stroke="#111" stroke-width="1.6"/>
<ellipse cx="145.1" cy="528.8" rx="11.2" ry="7.3" transform="rotate(59 145.1 528.8)" fill="#fff" stroke="#111" stroke-width="1.6" />
<path d="M147.5,518.5 L148.5,516.5 L150.5,517.5 L150.5,519.5 M153.5,530 L155,531 L154.5,533.5 L153,533" fill="#111" stroke="#111" stroke-width="1.2"/>
<ellipse cx="410.7" cy="437.5" rx="5.5" ry="3" transform="rotate(0 410.7 437.5)" fill="#fff" stroke="#111" stroke-width="1.4"/>
<polygon points="416.2,444.5 416.2,437.5 405.2,437.5 405.2,444.5" fill="#fff" stroke="none"/>
<line x1="416.2" y1="444.5" x2="416.2" y2="437.5" stroke="#111" stroke-width="1.4"/>
<line x1="405.2" y1="437.5" x2="405.2" y2="444.5" stroke="#111" stroke-width="1.4"/>
<ellipse cx="410.7" cy="444.5" rx="5.5" ry="3" transform="rotate(0 410.7 444.5)" fill="#fff" stroke="#111" stroke-width="1.4" />
<path d="M405.3,437.5 L405.3,441 C407,443.5 414,443.5 416.2,441 L416.2,437.5 Z" fill="#111"/>
<ellipse cx="410.7" cy="437.5" rx="5.5" ry="3" transform="rotate(180 410.7 437.5)" fill="#1a1a1a" stroke="#111" stroke-width="1.2" />
<rect x="405.8" y="472" width="9.7" height="17" fill="#fff" stroke="#111" stroke-width="1.4"/>
<rect x="407.6" y="478.2" width="6" height="3" fill="#222"/>
<ellipse cx="410.4" cy="472" rx="7.3" ry="4" transform="rotate(180 410.4 472)" fill="url(#knurl)" stroke="#111" stroke-width="1.5"/>
<polygon points="403.1,464.5 403.1,472 417.7,472 417.7,464.5" fill="url(#knurl)" stroke="none"/>
<line x1="403.1" y1="464.5" x2="403.1" y2="472" stroke="#111" stroke-width="1.5"/>
<line x1="417.7" y1="472" x2="417.7" y2="464.5" stroke="#111" stroke-width="1.5"/>
<ellipse cx="410.4" cy="464.5" rx="7.3" ry="4" transform="rotate(180 410.4 464.5)" fill="#fff" stroke="#111" stroke-width="1.5" />
<ellipse cx="410.4" cy="464.5" rx="7.3" ry="4" transform="rotate(180 410.4 464.5)" fill="#fff" stroke="#111" stroke-width="2" />
<ellipse cx="410.4" cy="464.8" rx="5" ry="2.5" transform="rotate(180 410.4 464.8)" fill="none" stroke="#111" stroke-width="1" />
<path d="M406.5,465.5 L414.5,465.5 M410.4,462.5 L410.4,466" stroke="#111" stroke-width="1.1"/>
<ellipse cx="432.9" cy="434.7" rx="7.2" ry="3.5" transform="rotate(180 432.9 434.7)" fill="#fff" stroke="#111" stroke-width="2.2" />
<ellipse cx="432.9" cy="434.7" rx="3.6" ry="1.6" transform="rotate(180 432.9 434.7)" fill="#fff" stroke="#111" stroke-width="1" />
<ellipse cx="432.6" cy="446" rx="6.3" ry="3.1" transform="rotate(0 432.6 446)" fill="#151515" stroke="#111" stroke-width="1.2"/>
<polygon points="438.9,452 438.9,446 426.3,446 426.3,452" fill="#151515" stroke="none"/>
<line x1="438.9" y1="452" x2="438.9" y2="446" stroke="#111" stroke-width="1.2"/>
<line x1="426.3" y1="446" x2="426.3" y2="452" stroke="#111" stroke-width="1.2"/>
<ellipse cx="432.6" cy="452" rx="6.3" ry="3.1" transform="rotate(0 432.6 452)" fill="#151515" stroke="#111" stroke-width="1.2" />
<ellipse cx="432.9" cy="464" rx="8" ry="4" transform="rotate(0 432.9 464)" fill="#fff" stroke="#111" stroke-width="1.6"/>
<polygon points="440.9,469 440.9,464 424.9,464 424.9,469" fill="#fff" stroke="none"/>
<line x1="440.9" y1="469" x2="440.9" y2="464" stroke="#111" stroke-width="1.6"/>
<line x1="424.9" y1="464" x2="424.9" y2="469" stroke="#111" stroke-width="1.6"/>
<ellipse cx="432.9" cy="469" rx="8" ry="4" transform="rotate(0 432.9 469)" fill="#fff" stroke="#111" stroke-width="1.6" />
<ellipse cx="432.9" cy="464" rx="8" ry="4" transform="rotate(180 432.9 464)" fill="#fff" stroke="#111" stroke-width="1.6" />
<ellipse cx="432.9" cy="464.5" rx="5.5" ry="2.5" transform="rotate(180 432.9 464.5)" fill="#444" stroke="#111" stroke-width="0.8" />
<use href="#nut13" transform="translate(-96.5,470.5)"/>
<clipPath id="hclip1"><rect x="249.5" y="719.3" width="17" height="12.8"/></clipPath>
<clipPath id="hclip2"><rect x="249.5" y="752.5" width="17" height="13.5"/></clipPath>
<g clip-path="url(#hclip1)" stroke="#111" stroke-width="1.4"><line x1="162.5" y1="770" x2="214.5" y2="718" /><line x1="170" y1="770" x2="222" y2="718" /><line x1="177.5" y1="770" x2="229.5" y2="718" /><line x1="185" y1="770" x2="237" y2="718" /><line x1="192.5" y1="770" x2="244.5" y2="718" /><line x1="200" y1="770" x2="252" y2="718" /><line x1="207.5" y1="770" x2="259.5" y2="718" /><line x1="215" y1="770" x2="267" y2="718" /><line x1="222.5" y1="770" x2="274.5" y2="718" /><line x1="230" y1="770" x2="282" y2="718" /><line x1="237.5" y1="770" x2="289.5" y2="718" /><line x1="245" y1="770" x2="297" y2="718" /><line x1="252.5" y1="770" x2="304.5" y2="718" /><line x1="260" y1="770" x2="312" y2="718" /><line x1="267.5" y1="770" x2="319.5" y2="718" /><line x1="275" y1="770" x2="327" y2="718" /><line x1="282.5" y1="770" x2="334.5" y2="718" /><line x1="290" y1="770" x2="342" y2="718" /><line x1="297.5" y1="770" x2="349.5" y2="718" /><line x1="305" y1="770" x2="357" y2="718" /></g>
<g clip-path="url(#hclip2)" stroke="#111" stroke-width="1.4"><line x1="162.5" y1="770" x2="214.5" y2="718" /><line x1="170" y1="770" x2="222" y2="718" /><line x1="177.5" y1="770" x2="229.5" y2="718" /><line x1="185" y1="770" x2="237" y2="718" /><line x1="192.5" y1="770" x2="244.5" y2="718" /><line x1="200" y1="770" x2="252" y2="718" /><line x1="207.5" y1="770" x2="259.5" y2="718" /><line x1="215" y1="770" x2="267" y2="718" /><line x1="222.5" y1="770" x2="274.5" y2="718" /><line x1="230" y1="770" x2="282" y2="718" /><line x1="237.5" y1="770" x2="289.5" y2="718" /><line x1="245" y1="770" x2="297" y2="718" /><line x1="252.5" y1="770" x2="304.5" y2="718" /><line x1="260" y1="770" x2="312" y2="718" /><line x1="267.5" y1="770" x2="319.5" y2="718" /><line x1="275" y1="770" x2="327" y2="718" /><line x1="282.5" y1="770" x2="334.5" y2="718" /><line x1="290" y1="770" x2="342" y2="718" /><line x1="297.5" y1="770" x2="349.5" y2="718" /><line x1="305" y1="770" x2="357" y2="718" /></g>
<line x1="266.6" y1="719" x2="266.6" y2="766.5" stroke="#111" stroke-width="1.8"/>
<rect x="258" y="733.5" width="16.5" height="19" fill="#fff" stroke="#111" stroke-width="1.1"/>
<rect x="245.2" y="734.3" width="12.6" height="16.8" rx="1.5" fill="#fff" stroke="#111" stroke-width="2.1"/>
<rect x="258" y="736" width="8.5" height="13.5" fill="#fff" stroke="#111" stroke-width="1.3"/>
<rect x="274.9" y="732" width="14.5" height="21.6" rx="1.5" fill="#fff" stroke="#111" stroke-width="2.1"/>
<line x1="289.6" y1="742.6" x2="297.6" y2="742.6" stroke="#999" stroke-width="1.1"/>
<rect x="297.5" y="730.6" width="15.6" height="25" fill="#fff" stroke="#8a8a8a" stroke-width="1.3"/>
<rect x="313.1" y="732.4" width="7.7" height="20.8" fill="#fff" stroke="#8a8a8a" stroke-width="1.3"/>
<line x1="297.4" y1="715" x2="297.4" y2="730.5" stroke="#333" stroke-width="0.9"/>
<line x1="313.6" y1="715" x2="313.6" y2="732.3" stroke="#333" stroke-width="0.9"/>
<line x1="282.5" y1="719.1" x2="297" y2="719.1" stroke="#111" stroke-width="1"/>
<polygon points="297.4,719.1 290,717.3 290,720.9" fill="#111"/>
<line x1="314" y1="719.1" x2="329.1" y2="719.1" stroke="#111" stroke-width="1"/>
<polygon points="313.6,719.1 321,717.3 321,720.9" fill="#111"/>
<path d="M337.6,747 C338.5,743.8 341.5,741.6 345.5,741.9 C347.5,742.2 348.2,743.4 350.2,743.2 L379.6,737.2 C381.5,735.5 384.5,735.4 386.8,736.6 C390,738.5 390.6,743 388.4,745.3 C386.2,747.3 382.5,747.2 380.4,745.2 L351,750.8 C347.5,751.8 345.2,754.2 343,756 C341.3,756.8 338.8,756.3 337.6,755 L342.6,751.2 C343.8,750.2 343.8,748.4 342.3,747.9 Z" fill="#fff" stroke="#8a8a8a" stroke-width="1.3" stroke-linejoin="round"/>
<circle cx="384.5" cy="741.3" r="3.3" fill="#fff" stroke="#8a8a8a" stroke-width="1.2"/>
<line x1="375.3" y1="739" x2="375.3" y2="743.2" stroke="#8a8a8a" stroke-width="1"/>
<path d="M427.6,737 L427.6,747.5 C427.8,752.5 433.5,756 441,756 C448.5,756 454.2,752.5 454.2,747.5 L454.2,737" fill="#fff" stroke="#111" stroke-width="1.8"/>
<ellipse cx="440.9" cy="736.8" rx="13.3" ry="6.5" fill="#fff" stroke="#111" stroke-width="1.8"/>
<ellipse cx="440.7" cy="738" rx="10.4" ry="5.3" fill="#151515"/>
<ellipse cx="440.9" cy="737" rx="11.6" ry="5.6" fill="none" stroke="#fff" stroke-width="0.8"/>
<path d="M436,737 L446,737.5 M437,739.5 L444,739" stroke="#666" stroke-width="0.7"/>
<path d="M428,740.5 L432.6,743.5 L436.5,744.8 L445.5,744.8 L448,743.5 L454,740.5 M432.6,743.5 L432.6,754 M436.5,744.8 L436.5,755.6 M445.5,744.8 L445.5,755.6 M448,743.5 L448,754" fill="none" stroke="#111" stroke-width="1.4"/>
<path d="M507.2,724 L507.2,766.5 L530.5,766.5 L530.5,724" fill="#fff" stroke="#8a8a8a" stroke-width="1.1"/>
<path d="M506.8,766 L506.8,772 C510,775 515,776.3 519,776.3 C523,776.3 528,775 531.2,772 L531.2,766 C528,768.5 523,769.8 519,769.8 C515,769.8 510,768.5 506.8,766 Z" fill="#fff" stroke="#8a8a8a" stroke-width="1.1"/>
<path d="M510,768.3 L510,774.8 M515,769.5 L515,776 M523,769.5 L523,776 M528,768.3 L528,774.8" stroke="#8a8a8a" stroke-width="0.8"/>
<path d="M506.5,719 L506.5,726 C509,729.5 514,731 519,731 C524,731 529,729.5 531.6,726 L531.6,719" fill="#fff" stroke="#8a8a8a" stroke-width="1.1"/>
<path d="M510.5,722 L510.5,729 M515.5,723.5 L515.5,730.5 M522.5,723.5 L522.5,730.5 M527.5,722 L527.5,729 M519,714 L519,718" stroke="#8a8a8a" stroke-width="0.8"/>
<ellipse cx="519" cy="719" rx="12.5" ry="6.4" fill="#fff" stroke="#8a8a8a" stroke-width="1.2"/>
<ellipse cx="519" cy="720.3" rx="9.6" ry="4" fill="#fff" stroke="#8a8a8a" stroke-width="0.9"/>
<ellipse cx="511.8" cy="750.5" rx="2.2" ry="3.3" transform="rotate(-20 511.8 750.5)" fill="#fff" stroke="#8a8a8a" stroke-width="1"/>
<path d="M526.5,734 L527.5,735 M523.5,746 L527,744.5 M526,763 L527.5,762" stroke="#8a8a8a" stroke-width="1.5"/>
<ellipse cx="603.5" cy="741.5" rx="20.8" ry="11.6" transform="rotate(74.1 603.5 741.5)" fill="#fff" stroke="#111" stroke-width="1.8"/>
<polygon points="598.7,764.5 609.2,761.5 597.8,721.5 587.3,724.5" fill="#fff" stroke="none"/>
<line x1="598.7" y1="764.5" x2="609.2" y2="761.5" stroke="#111" stroke-width="1.8"/>
<line x1="597.8" y1="721.5" x2="587.3" y2="724.5" stroke="#111" stroke-width="1.8"/>
<ellipse cx="593" cy="744.5" rx="20.8" ry="11.6" transform="rotate(74.1 593 744.5)" fill="#fff" stroke="#111" stroke-width="1.8" />
<ellipse cx="593" cy="744.5" rx="17.6" ry="8.8" transform="rotate(74.1 593 744.5)" fill="#fff" stroke="#111" stroke-width="1.1" />
<path d="M584.7,750.6 L585.7,752.9 L586.9,755.1 L588.1,757.1 L589.5,758.9 L590.9,760.5 L592.4,761.8 L594,762.9 L595.5,763.6 L597.1,764.1 L598.6,764.3 L600,764.1 L601.4,763.7 L602.7,762.9 L603.8,761.8 L604.8,760.5 L605.7,759 L606.3,757.2 L606.8,755.2 L607.2,753 L607.3,750.7 L607.2,748.3 L607,745.8 L606.5,743.3 L605.9,740.8" fill="none" stroke="#111" stroke-width="0.8"/>
<path d="M596,723.5 L600,725 M604,730 L607,733 M610,738 L612,741 M613,749.5 L615,752" stroke="#111" stroke-width="1.8"/>
<use href="#p7" transform="translate(204.4,380.6)" filter="url(#lighten)"/>
<g transform="translate(0,0)">
<line x1="578.5" y1="813.3" x2="613.9" y2="794.6" stroke="#111" stroke-width="1.2"/>
<ellipse cx="580" cy="814.5" rx="6.2" ry="3.7" transform="rotate(-58 580 814.5)" fill="#151515" stroke="#111" stroke-width="1"/>
<polygon points="591.3,814.2 583.3,809.2 576.7,819.8 584.7,824.8" fill="#151515" stroke="none"/>
<line x1="591.3" y1="814.2" x2="583.3" y2="809.2" stroke="#111" stroke-width="1"/>
<line x1="576.7" y1="819.8" x2="584.7" y2="824.8" stroke="#111" stroke-width="1"/>
<ellipse cx="588" cy="819.5" rx="6.2" ry="3.7" transform="rotate(-58 588 819.5)" fill="#151515" stroke="#111" stroke-width="1" /><path d="M585.3,822.6 L585.6,822.6 L585.9,822.6 L586.2,822.5 L586.5,822.4 L586.8,822.2 L587.1,822 L587.4,821.8 L587.7,821.6 L588,821.3 L588.2,821 L588.5,820.7 L588.7,820.4 L589,820.1 L589.2,819.7 L589.3,819.3 L589.5,819 L589.6,818.6 L589.7,818.2 L589.8,817.9 L589.9,817.5 L589.9,817.2 L589.9,816.8 L589.9,816.5 L589.8,816.2" fill="none" stroke="#ccc" stroke-width="0.8"/><path d="M581.5,822.6 L581.8,822.7 L582.1,822.7 L582.4,822.7 L582.8,822.7 L583.1,822.6 L583.5,822.5 L583.9,822.3 L584.2,822.2 L584.6,821.9 L584.9,821.7 L585.3,821.4 L585.7,821.1 L586,820.8 L586.3,820.4 L586.6,820.1 L586.9,819.7 L587.2,819.3 L587.5,818.9 L587.7,818.4 L587.9,818 L588.1,817.5 L588.3,817.1 L588.4,816.6 L588.6,816.2" fill="none" stroke="#ccc" stroke-width="0.8"/><path d="M577.2,807.5 L577.7,821.5 M570.2,818.5 L579.2,814.5 M575.2,810.5 L582.2,809" stroke="#111" stroke-width="1.1" fill="none"/><path d="M572.2,816.5 C574.2,812.5 578.2,811.5 580.2,813.5 L582.2,819.5 C579.2,821.5 574.2,820.5 572.2,816.5 Z" fill="#222" stroke="#111" stroke-width="0.8"/><path d="M573.7,815.5 L575.7,819 M577.2,813.5 L579.2,818.5" stroke="#fff" stroke-width="1"/>
<ellipse cx="617" cy="793.8" rx="5.8" ry="3.5" transform="rotate(-58.9 617 793.8)" fill="#151515" stroke="#111" stroke-width="1"/>
<polygon points="627.3,793.2 620,788.8 614,798.8 621.3,803.2" fill="#151515" stroke="none"/>
<line x1="627.3" y1="793.2" x2="620" y2="788.8" stroke="#111" stroke-width="1"/>
<line x1="614" y1="798.8" x2="621.3" y2="803.2" stroke="#111" stroke-width="1"/>
<ellipse cx="624.3" cy="798.2" rx="5.8" ry="3.5" transform="rotate(-58.9 624.3 798.2)" fill="#151515" stroke="#111" stroke-width="1" /><path d="M621.8,801.1 L622,801.1 L622.3,801.1 L622.6,801 L622.8,800.9 L623.1,800.7 L623.4,800.5 L623.7,800.3 L623.9,800.1 L624.2,799.9 L624.5,799.6 L624.7,799.3 L624.9,799 L625.1,798.7 L625.3,798.3 L625.5,798 L625.6,797.6 L625.7,797.3 L625.8,796.9 L625.9,796.6 L626,796.3 L626,795.9 L626,795.6 L625.9,795.3 L625.9,795" fill="none" stroke="#ccc" stroke-width="0.8"/><path d="M618,801.1 L618.3,801.1 L618.6,801.2 L618.9,801.1 L619.2,801.1 L619.6,801 L619.9,800.9 L620.2,800.8 L620.6,800.6 L620.9,800.4 L621.2,800.2 L621.6,799.9 L621.9,799.6 L622.2,799.3 L622.5,799 L622.8,798.6 L623.1,798.2 L623.3,797.9 L623.6,797.5 L623.8,797 L624,796.6 L624.1,796.2 L624.3,795.8 L624.4,795.4 L624.5,794.9" fill="none" stroke="#ccc" stroke-width="0.8"/><path d="M614.5,787 L615,801 M607.5,798 L616.5,794 M612.5,790 L619.5,788.5" stroke="#111" stroke-width="1.1" fill="none"/><path d="M609.5,796 C611.5,792 615.5,791 617.5,793 L619.5,799 C616.5,801 611.5,800 609.5,796 Z" fill="#222" stroke="#111" stroke-width="0.8"/><path d="M611,795 L613,798.5 M614.5,793 L616.5,798" stroke="#fff" stroke-width="1"/>
<path d="M594,827.3 L594,808.7 A3.2,3.2 0 0 1 600.4,808.7 L600.4,827.3 Z" fill="#111" stroke="#111" stroke-width="1"/><path d="M595.4,811.5 L595.4,808.5 A1.8,1.8 0 0 1 599,808.5 L599,811.5 Z" fill="#fff"/><line x1="597.2" y1="807.5" x2="597.2" y2="811.5" stroke="#111" stroke-width="0.8"/><circle cx="597.2" cy="827.3" r="4.7" fill="#111"/>
<path d="M630.1,807 L630.1,788 A3.2,3.2 0 0 1 636.5,788 L636.5,807 Z" fill="#fff" stroke="#111" stroke-width="1.1"/><line x1="633.3" y1="787.3" x2="633.3" y2="807" stroke="#111" stroke-width="1.6"/><line x1="631.3" y1="789.8" x2="635.3" y2="789.8" stroke="#111" stroke-width="0.7"/><line x1="631.3" y1="792.9" x2="635.3" y2="792.9" stroke="#111" stroke-width="0.7"/><line x1="631.3" y1="796" x2="635.3" y2="796" stroke="#111" stroke-width="0.7"/><line x1="631.3" y1="799.1" x2="635.3" y2="799.1" stroke="#111" stroke-width="0.7"/><line x1="631.3" y1="802.2" x2="635.3" y2="802.2" stroke="#111" stroke-width="0.7"/><line x1="631.3" y1="805.3" x2="635.3" y2="805.3" stroke="#111" stroke-width="0.7"/><circle cx="633.3" cy="807" r="4.7" fill="#111"/>
</g>
<g transform="translate(0,54)">
<line x1="578.5" y1="813.3" x2="613.9" y2="794.6" stroke="#111" stroke-width="1.2"/>
<ellipse cx="580" cy="814.5" rx="6.2" ry="3.7" transform="rotate(-58 580 814.5)" fill="#151515" stroke="#111" stroke-width="1"/>
<polygon points="591.3,814.2 583.3,809.2 576.7,819.8 584.7,824.8" fill="#151515" stroke="none"/>
<line x1="591.3" y1="814.2" x2="583.3" y2="809.2" stroke="#111" stroke-width="1"/>
<line x1="576.7" y1="819.8" x2="584.7" y2="824.8" stroke="#111" stroke-width="1"/>
<ellipse cx="588" cy="819.5" rx="6.2" ry="3.7" transform="rotate(-58 588 819.5)" fill="#151515" stroke="#111" stroke-width="1" /><path d="M585.3,822.6 L585.6,822.6 L585.9,822.6 L586.2,822.5 L586.5,822.4 L586.8,822.2 L587.1,822 L587.4,821.8 L587.7,821.6 L588,821.3 L588.2,821 L588.5,820.7 L588.7,820.4 L589,820.1 L589.2,819.7 L589.3,819.3 L589.5,819 L589.6,818.6 L589.7,818.2 L589.8,817.9 L589.9,817.5 L589.9,817.2 L589.9,816.8 L589.9,816.5 L589.8,816.2" fill="none" stroke="#ccc" stroke-width="0.8"/><path d="M581.5,822.6 L581.8,822.7 L582.1,822.7 L582.4,822.7 L582.8,822.7 L583.1,822.6 L583.5,822.5 L583.9,822.3 L584.2,822.2 L584.6,821.9 L584.9,821.7 L585.3,821.4 L585.7,821.1 L586,820.8 L586.3,820.4 L586.6,820.1 L586.9,819.7 L587.2,819.3 L587.5,818.9 L587.7,818.4 L587.9,818 L588.1,817.5 L588.3,817.1 L588.4,816.6 L588.6,816.2" fill="none" stroke="#ccc" stroke-width="0.8"/><path d="M577.2,807.5 L577.7,821.5 M570.2,818.5 L579.2,814.5 M575.2,810.5 L582.2,809" stroke="#111" stroke-width="1.1" fill="none"/><path d="M572.2,816.5 C574.2,812.5 578.2,811.5 580.2,813.5 L582.2,819.5 C579.2,821.5 574.2,820.5 572.2,816.5 Z" fill="#222" stroke="#111" stroke-width="0.8"/><path d="M573.7,815.5 L575.7,819 M577.2,813.5 L579.2,818.5" stroke="#fff" stroke-width="1"/>
<ellipse cx="617" cy="793.8" rx="5.8" ry="3.5" transform="rotate(-58.9 617 793.8)" fill="#151515" stroke="#111" stroke-width="1"/>
<polygon points="627.3,793.2 620,788.8 614,798.8 621.3,803.2" fill="#151515" stroke="none"/>
<line x1="627.3" y1="793.2" x2="620" y2="788.8" stroke="#111" stroke-width="1"/>
<line x1="614" y1="798.8" x2="621.3" y2="803.2" stroke="#111" stroke-width="1"/>
<ellipse cx="624.3" cy="798.2" rx="5.8" ry="3.5" transform="rotate(-58.9 624.3 798.2)" fill="#151515" stroke="#111" stroke-width="1" /><path d="M621.8,801.1 L622,801.1 L622.3,801.1 L622.6,801 L622.8,800.9 L623.1,800.7 L623.4,800.5 L623.7,800.3 L623.9,800.1 L624.2,799.9 L624.5,799.6 L624.7,799.3 L624.9,799 L625.1,798.7 L625.3,798.3 L625.5,798 L625.6,797.6 L625.7,797.3 L625.8,796.9 L625.9,796.6 L626,796.3 L626,795.9 L626,795.6 L625.9,795.3 L625.9,795" fill="none" stroke="#ccc" stroke-width="0.8"/><path d="M618,801.1 L618.3,801.1 L618.6,801.2 L618.9,801.1 L619.2,801.1 L619.6,801 L619.9,800.9 L620.2,800.8 L620.6,800.6 L620.9,800.4 L621.2,800.2 L621.6,799.9 L621.9,799.6 L622.2,799.3 L622.5,799 L622.8,798.6 L623.1,798.2 L623.3,797.9 L623.6,797.5 L623.8,797 L624,796.6 L624.1,796.2 L624.3,795.8 L624.4,795.4 L624.5,794.9" fill="none" stroke="#ccc" stroke-width="0.8"/><path d="M614.5,787 L615,801 M607.5,798 L616.5,794 M612.5,790 L619.5,788.5" stroke="#111" stroke-width="1.1" fill="none"/><path d="M609.5,796 C611.5,792 615.5,791 617.5,793 L619.5,799 C616.5,801 611.5,800 609.5,796 Z" fill="#222" stroke="#111" stroke-width="0.8"/><path d="M611,795 L613,798.5 M614.5,793 L616.5,798" stroke="#fff" stroke-width="1"/>
<path d="M594,827.3 L594,808.7 A3.2,3.2 0 0 1 600.4,808.7 L600.4,827.3 Z" fill="#fff" stroke="#111" stroke-width="1.1"/><line x1="597.2" y1="808" x2="597.2" y2="827.3" stroke="#111" stroke-width="1.6"/><line x1="595.2" y1="810.5" x2="599.2" y2="810.5" stroke="#111" stroke-width="0.7"/><line x1="595.2" y1="813.6" x2="599.2" y2="813.6" stroke="#111" stroke-width="0.7"/><line x1="595.2" y1="816.7" x2="599.2" y2="816.7" stroke="#111" stroke-width="0.7"/><line x1="595.2" y1="819.8" x2="599.2" y2="819.8" stroke="#111" stroke-width="0.7"/><line x1="595.2" y1="822.9" x2="599.2" y2="822.9" stroke="#111" stroke-width="0.7"/><line x1="595.2" y1="826" x2="599.2" y2="826" stroke="#111" stroke-width="0.7"/><circle cx="597.2" cy="827.3" r="4.7" fill="#111"/>
<path d="M630.1,807 L630.1,788 A3.2,3.2 0 0 1 636.5,788 L636.5,807 Z" fill="#111" stroke="#111" stroke-width="1"/><path d="M631.5,790.8 L631.5,787.8 A1.8,1.8 0 0 1 635.1,787.8 L635.1,790.8 Z" fill="#fff"/><line x1="633.3" y1="786.8" x2="633.3" y2="790.8" stroke="#111" stroke-width="0.8"/><circle cx="633.3" cy="807" r="4.7" fill="#111"/>
</g>
<!-- leader / bracket lines -->
<g id="lines" fill="none" stroke="#1a1a1a" stroke-width="1.1">
<polyline points="142.1,268 187.3,242.3 249.2,278.5 204,304"/>
<line x1="188.3" y1="274.5" x2="214.9" y2="258.9"/>
<line x1="223.2" y1="261.8" x2="227.9" y2="259.4"/>

<line x1="310.2" y1="259.3" x2="321.9" y2="253.4"/>

<polyline points="275.8,312 292.7,303.2 372.9,348.9 331.6,374.5"/>
<line x1="243.7" y1="330.6" x2="251.3" y2="326"/>
<line x1="270.7" y1="345.8" x2="318" y2="318.7"/>
<line x1="327.4" y1="321.3" x2="330.7" y2="318.7"/>
<line x1="331.6" y1="326.3" x2="318" y2="333"/>
<line x1="294.4" y1="347.5" x2="285" y2="353.4"/>
<line x1="348.5" y1="335.6" x2="332.4" y2="344.1"/>
<line x1="311.3" y1="361.9" x2="303.7" y2="366"/>

<line x1="305" y1="400.2" x2="321.3" y2="390.9"/>

<line x1="476.7" y1="348.5" x2="524.3" y2="375"/>
<line x1="524.7" y1="324.9" x2="568.4" y2="349.1"/>
<polyline points="579.3,288.2 618.3,310.9 596.5,324.1 555.9,301.5"/>
<line x1="609" y1="318.7" x2="615.2" y2="321.8"/>
<polyline points="669.6,240.2 705.5,261.5 650.4,292.7 617.3,272.7"/>
<line x1="643.6" y1="245.9" x2="687.9" y2="271.4"/>
<line x1="668.6" y1="283.9" x2="676.4" y2="287.5"/>

<line x1="329.2" y1="439.1" x2="351" y2="452.8"/>
<line x1="291" y1="460" x2="321" y2="478.3"/>
<line x1="210" y1="462.7" x2="224.7" y2="471"/>
<line x1="242.4" y1="488.7" x2="273.6" y2="506.4"/>
<polyline points="211.1,510.5 243.4,528.2 192.4,558.4 155,536.6"/>
<line x1="168.5" y1="518.9" x2="213.2" y2="544.9"/>
<line x1="226.8" y1="539.7" x2="235" y2="543.8"/>
<line x1="392" y1="441.4" x2="403.7" y2="441.4"/>
<polyline points="441.1,434.3 452.9,434.3 452.9,469.4 441.1,469.4"/>
<line x1="439.6" y1="450.7" x2="452.9" y2="450.7"/>
<line x1="453.6" y1="455.4" x2="461.4" y2="455.4"/>
</g>

<!-- labels -->
<g fill="#111">
<clipPath id="nf1"><path d="M222.2,235.4 H255 V268.2 H222.2 Z M227.6,257.4 h4.7 v6.6 h-4.7 Z M234.2,257.4 h4.5 v6.6 h-4.5 Z" clip-rule="evenodd"/></clipPath>
<text x="227.2" y="260" font-size="20.5" clip-path="url(#nf1)">12</text>
<clipPath id="nf2"><path d="M315.2,228.3 H348 V261.1 H315.2 Z M320.6,250.3 h4.7 v6.6 h-4.7 Z M327.2,250.3 h4.5 v6.6 h-4.5 Z" clip-rule="evenodd"/></clipPath>
<text x="320.2" y="252.9" font-size="20.5" clip-path="url(#nf2)">13</text>
<clipPath id="nf3"><path d="M324.9,293.2 H357.7 V326 H324.9 Z M330.3,315.2 h4.7 v6.6 h-4.7 Z M336.9,315.2 h4.5 v6.6 h-4.5 Z M341.7,315.2 h4.7 v6.6 h-4.7 Z M348.3,315.2 h4.5 v6.6 h-4.5 Z" clip-rule="evenodd"/></clipPath>
<text x="329.9" y="317.8" font-size="20.5" clip-path="url(#nf3)">11</text>
<clipPath id="nf4"><path d="M670.7,277.2 H692.1 V310 H670.7 Z M676.1,299.2 h4.7 v6.6 h-4.7 Z M682.7,299.2 h4.5 v6.6 h-4.5 Z" clip-rule="evenodd"/></clipPath>
<text x="675.7" y="301.8" font-size="20.5" clip-path="url(#nf4)">1</text>
<text x="616.1" y="337" font-size="20.5">2</text>
<text x="570.2" y="364.2" font-size="20.5">3</text>
<text x="524.6" y="385.5" font-size="20.5">4</text>
<text x="236.3" y="558.3" font-size="20.5">5</text>
<text x="274.3" y="520.7" font-size="20.5">6</text>
<text x="319" y="492.7" font-size="20.5">7</text>
<text x="351" y="463.6" font-size="20.5">8</text>
<text x="462.8" y="463.3" font-size="20.5">9</text>
<clipPath id="nf5"><path d="M363.1,423.7 H395.9 V456.5 H363.1 Z M368.5,445.7 h4.7 v6.6 h-4.7 Z M375.1,445.7 h4.5 v6.6 h-4.5 Z" clip-rule="evenodd"/></clipPath>
<text x="368.1" y="448.3" font-size="20.5" clip-path="url(#nf5)">10</text>
<clipPath id="nf6"><path d="M244.7,308.1 H280.4 V329.2 H244.7 Z M250,322.2 h3 v5.7 h-3 Z M254.2,322.2 h2.9 v5.7 h-2.9 Z M257.3,322.2 h3 v5.7 h-3 Z M261.6,322.2 h2.9 v5.7 h-2.9 Z M268.3,322.2 h3 v5.7 h-3 Z M272.6,322.2 h2.9 v5.7 h-2.9 Z" clip-rule="evenodd"/></clipPath>
<text x="249.7" y="323.9" font-size="13.2" clip-path="url(#nf6)">11.1</text>
<clipPath id="nf7"><path d="M289.4,327.1 H325.1 V348.2 H289.4 Z M294.7,341.2 h3 v5.7 h-3 Z M299,341.2 h2.9 v5.7 h-2.9 Z M302,341.2 h3 v5.7 h-3 Z M306.3,341.2 h2.9 v5.7 h-2.9 Z" clip-rule="evenodd"/></clipPath>
<text x="294.4" y="342.9" font-size="13.2" clip-path="url(#nf7)">11.3</text>
<clipPath id="nf8"><path d="M302.1,341.1 H337.7 V362.2 H302.1 Z M307.3,355.2 h3 v5.7 h-3 Z M311.6,355.2 h2.9 v5.7 h-2.9 Z M314.6,355.2 h3 v5.7 h-3 Z M318.9,355.2 h2.9 v5.7 h-2.9 Z" clip-rule="evenodd"/></clipPath>
<text x="307.1" y="356.9" font-size="13.2" clip-path="url(#nf8)">11.2</text>
<text x="274.5" y="407.6" font-size="10.6">30mm</text>
<text x="180.6" y="462.7" font-size="10.5">34mm</text>
<clipPath id="nf9"><path d="M187.9,679 H220.7 V711.8 H187.9 Z M193.3,701 h4.7 v6.6 h-4.7 Z M199.9,701 h4.5 v6.6 h-4.5 Z" clip-rule="evenodd"/></clipPath>
<text x="192.9" y="703.6" font-size="20.5" clip-path="url(#nf9)">13</text>
<clipPath id="nf10"><path d="M344.8,680 H377.6 V712.8 H344.8 Z M350.2,702 h4.7 v6.6 h-4.7 Z M356.8,702 h4.5 v6.6 h-4.5 Z" clip-rule="evenodd"/></clipPath>
<text x="349.8" y="704.6" font-size="20.5" clip-path="url(#nf10)">14</text>
<clipPath id="nf11"><path d="M496.4,679.2 H529.2 V712 H496.4 Z M501.8,701.2 h4.7 v6.6 h-4.7 Z M508.4,701.2 h4.5 v6.6 h-4.5 Z" clip-rule="evenodd"/></clipPath>
<text x="501.4" y="703.8" font-size="20.5" clip-path="url(#nf11)">15</text>
<text x="532.8" y="820.2" font-size="21.8">7</text>
<clipPath id="nf12"><path d="M520.8,840.3 H555 V875.2 H520.8 Z M526.2,863.7 h5 v6.8 h-5 Z M533.3,863.7 h4.8 v6.8 h-4.8 Z" clip-rule="evenodd"/></clipPath>
<text x="525.8" y="866.5" font-size="21.8" clip-path="url(#nf12)">16</text>
<text x="295.2" y="713.7" font-size="12.4">+20</text>
<text x="426.3" y="717.8" font-size="10.6">30mm</text>
<text x="583.8" y="714.7" font-size="10.6">34mm</text>
</g>
<!-- table -->
<g id="table" fill="none" stroke="#111" stroke-width="1.6">
<rect x="175.9" y="685.7" width="469.3" height="96.3"/>
<line x1="239.4" y1="685.9" x2="239.4" y2="782"/>
<line x1="332" y1="685.9" x2="332" y2="782"/>
<line x1="398.7" y1="685.9" x2="398.7" y2="782"/>
<line x1="489" y1="685.9" x2="489" y2="782"/>
<line x1="552.1" y1="685.9" x2="552.1" y2="782"/>
<polyline points="452.2,782 452.2,887.8 645.2,887.8 645.2,782"/>
<line x1="509.7" y1="782" x2="509.7" y2="887.8"/>
<line x1="512" y1="835" x2="640.2" y2="835" stroke-width="1.3"/>
<line x1="565.3" y1="786" x2="565.3" y2="885.6" stroke="#888" stroke-width="1.3"/>
<line x1="180" y1="707.1" x2="228.2" y2="707.1" stroke-width="1.2"/>
<line x1="336.7" y1="707.1" x2="384.7" y2="707.1" stroke-width="1.2"/>
<line x1="494" y1="707.1" x2="540.9" y2="707.1" stroke-width="1.2"/>
</g>

</svg>
</body></html>
